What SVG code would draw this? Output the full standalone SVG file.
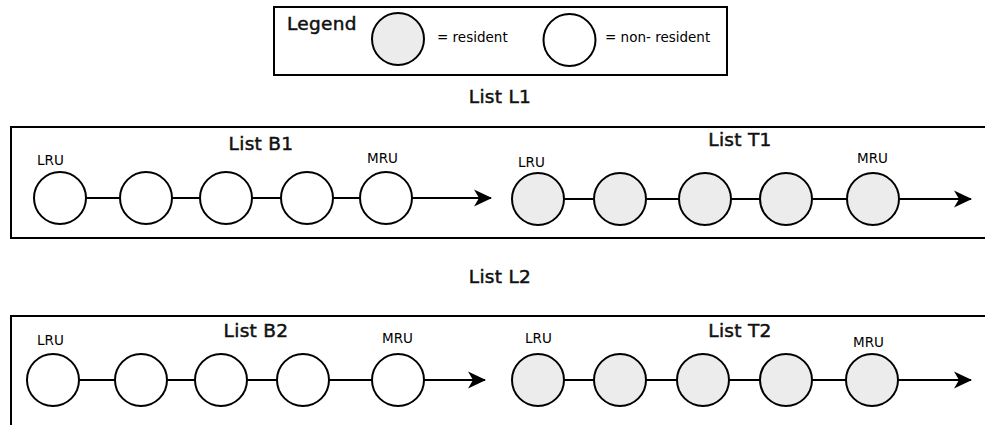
<svg xmlns="http://www.w3.org/2000/svg" width="985" height="425" viewBox="0 0 985 425">
  <style>
    .frame { fill: none; stroke: #000; stroke-width: 2; }
    .res { fill: #ececec; stroke: #000; stroke-width: 2; }
    .non { fill: #fff; stroke: #000; stroke-width: 2; }
    .link { stroke: #000; stroke-width: 2; fill: none; }
    .title { font-family: "DejaVu Sans", sans-serif; font-size: 18.5px; letter-spacing: 0.3px; fill: #111; stroke: #111; stroke-width: 0.5; }
    .small { font-family: "DejaVu Sans", sans-serif; font-size: 13.5px; fill: #000; }
  </style>
  <defs>
    <marker id="arrow" markerUnits="userSpaceOnUse" markerWidth="24" markerHeight="20" viewBox="-20 -10 22 20" refX="0" refY="0" orient="auto">
      <path d="M1,0 L-17,-8.5 L-12,0 L-17,8.5 Z" fill="#000"/>
    </marker>
  </defs>
  <rect width="985" height="425" fill="#fff"/>

  <!-- legend -->
  <g id="legend">
    <rect class="frame" x="274" y="7" width="453" height="68"/>
    <text class="title" x="287" y="30">Legend</text>
    <circle class="res" cx="398" cy="39" r="26"/>
    <text class="small" x="437" y="42">= resident</text>
    <circle class="non" cx="569.5" cy="40" r="26"/>
    <text class="small" x="605" y="42">= non- resident</text>
  </g>

  <!-- list L1 -->
  <g id="list-L1">
    <text class="title" x="500" y="103" text-anchor="middle">List L1</text>
    <rect class="frame" x="11" y="127" width="990" height="111"/>
    <text class="title" x="261" y="150" text-anchor="middle">List B1</text>
    <text class="title" x="740" y="146" text-anchor="middle">List T1</text>
    <text class="small" x="37" y="165">LRU</text>
    <text class="small" x="367" y="163">MRU</text>
    <text class="small" x="518" y="167">LRU</text>
    <text class="small" x="857" y="163">MRU</text>
  </g>

  <!-- list L2 -->
  <g id="list-L2">
    <text class="title" x="500" y="283" text-anchor="middle">List L2</text>
    <path class="frame" d="M11,426 V316 H990"/>
    <text class="title" x="256" y="337" text-anchor="middle">List B2</text>
    <text class="title" x="740" y="337" text-anchor="middle">List T2</text>
    <text class="small" x="37" y="345">LRU</text>
    <text class="small" x="382" y="343">MRU</text>
    <text class="small" x="525" y="343">LRU</text>
    <text class="small" x="853" y="347">MRU</text>
  </g>

  <!-- links between entries, drawn under the circles -->
  <g id="connectors">
    <line class="link" x1="60" y1="198" x2="386" y2="198"/>
    <line class="link" x1="412" y1="198" x2="491" y2="198" marker-end="url(#arrow)"/>
    <line class="link" x1="538" y1="199" x2="873" y2="199"/>
    <line class="link" x1="899" y1="199" x2="971" y2="199" marker-end="url(#arrow)"/>
    <line class="link" x1="53" y1="380" x2="398" y2="380"/>
    <line class="link" x1="424" y1="380" x2="485" y2="380" marker-end="url(#arrow)"/>
    <line class="link" x1="538" y1="380" x2="872" y2="380"/>
    <line class="link" x1="898" y1="380" x2="971" y2="380" marker-end="url(#arrow)"/>
  </g>

  <!-- B1 entries (non-resident) -->
  <g id="b1-1"><circle class="non" cx="60" cy="198" r="26"/></g>
  <g id="b1-2"><circle class="non" cx="146" cy="198" r="26"/></g>
  <g id="b1-3"><circle class="non" cx="226" cy="198" r="26"/></g>
  <g id="b1-4"><circle class="non" cx="307" cy="198" r="26"/></g>
  <g id="b1-5"><circle class="non" cx="386" cy="198" r="26"/></g>

  <!-- T1 entries (resident) -->
  <g id="t1-1"><circle class="res" cx="538" cy="199" r="26"/></g>
  <g id="t1-2"><circle class="res" cx="620" cy="199" r="26"/></g>
  <g id="t1-3"><circle class="res" cx="705" cy="199" r="26"/></g>
  <g id="t1-4"><circle class="res" cx="786" cy="199" r="26"/></g>
  <g id="t1-5"><circle class="res" cx="873" cy="199" r="26"/></g>

  <!-- B2 entries (non-resident) -->
  <g id="b2-1"><circle class="non" cx="53" cy="380" r="26"/></g>
  <g id="b2-2"><circle class="non" cx="141" cy="380" r="26"/></g>
  <g id="b2-3"><circle class="non" cx="221" cy="380" r="26"/></g>
  <g id="b2-4"><circle class="non" cx="303" cy="380" r="26"/></g>
  <g id="b2-5"><circle class="non" cx="398" cy="380" r="26"/></g>

  <!-- T2 entries (resident) -->
  <g id="t2-1"><circle class="res" cx="538" cy="380" r="26"/></g>
  <g id="t2-2"><circle class="res" cx="620" cy="380" r="26"/></g>
  <g id="t2-3"><circle class="res" cx="703" cy="380" r="26"/></g>
  <g id="t2-4"><circle class="res" cx="786" cy="380" r="26"/></g>
  <g id="t2-5"><circle class="res" cx="872" cy="380" r="26"/></g>
</svg>
